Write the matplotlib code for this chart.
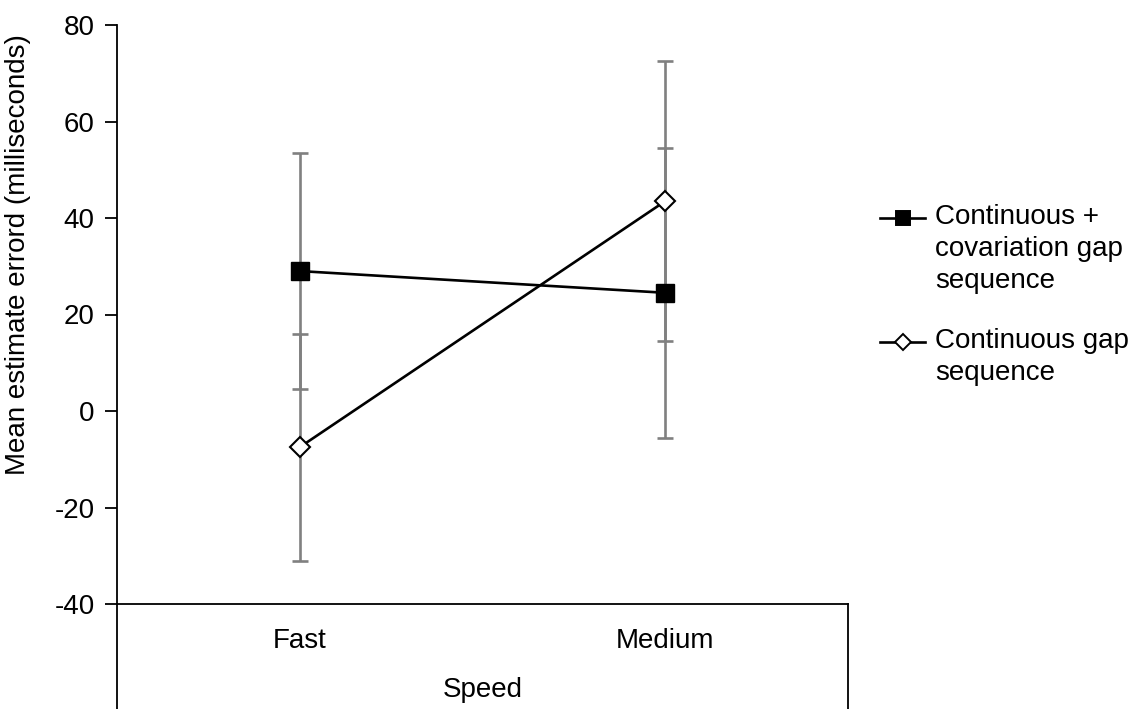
import matplotlib
matplotlib.use("Agg")
import matplotlib.pyplot as plt
from matplotlib.lines import Line2D

plt.rcParams['font.family'] = ['Liberation Sans', 'DejaVu Sans']
plt.rcParams['axes.unicode_minus'] = False

speeds = ["Fast", "Medium"]
covar_mean = [29.0, 24.5]
covar_err = [24.5, 30.0]
cont_mean = [-7.5, 43.5]
cont_err = [23.5, 29.0]
legend_labels = ["Continuous +\ncovariation gap\nsequence", "Continuous gap\nsequence"]

FS = 20

fig = plt.figure(figsize=(11.48, 7.09), dpi=100)
ax = fig.add_axes([117 / 1148, 105 / 709, 731 / 1148, 579 / 709])

x = [0, 1]
err_kw = dict(fmt='none', ecolor='#808080', elinewidth=1.9, capsize=5.5, capthick=1.9, zorder=1)
ax.errorbar(x, covar_mean, yerr=covar_err, **err_kw)
ax.errorbar(x, cont_mean, yerr=cont_err, **err_kw)

ax.plot(x, covar_mean, color='black', lw=1.9, marker='s', ms=13,
        mfc='black', mec='black', zorder=3)
ax.plot(x, cont_mean, color='black', lw=1.9, marker='D', ms=10,
        mfc='white', mec='black', mew=1.5, zorder=3)

ax.set_xlim(-0.5, 1.5)
ax.set_ylim(-40, 80)
ax.set_yticks(range(-40, 81, 20))
ax.set_xticks(x)
ax.set_xticklabels(speeds)

for s in ['top', 'right']:
    ax.spines[s].set_visible(False)
ax.spines['left'].set_linewidth(1.3)
ax.spines['bottom'].set_linewidth(1.3)
ax.tick_params(axis='y', direction='out', length=9, width=1.3, labelsize=FS, pad=7)
ax.tick_params(axis='x', length=0, labelsize=FS, pad=17)

# long category boundary lines below the axis
for xb in (0, 1):
    ax.plot([xb, xb], [0, -105 / 579], transform=ax.transAxes, color='black',
            lw=1.3, clip_on=False)

ax.set_ylabel("Mean estimate errord (milliseconds)", fontsize=FS)
ax.yaxis.set_label_coords(-0.117, 0.603)
ax.text(0.5, -0.148, "Speed", transform=ax.transAxes, ha='center', va='center', fontsize=FS)

# legend drawn by hand to keep the handle on the first text line
handles = [dict(marker='s', ms=10, mfc='black'), dict(marker='D', ms=8, mfc='white')]
ys = [218, 342]
for h, lab, yp in zip(handles, legend_labels, ys):
    yf = 1 - yp / 709
    fig.add_artist(Line2D([880 / 1148, 925 / 1148], [yf, yf], color='black', lw=1.9,
                          transform=fig.transFigure))
    fig.add_artist(Line2D([902.5 / 1148], [yf], color='black', mec='black', mew=1.4,
                          transform=fig.transFigure, **h))
    fig.text(935 / 1148, yf + 14 / 709, lab, ha='left', va='top', fontsize=FS,
             linespacing=1.31, transform=fig.transFigure)

fig.savefig("out.png", dpi=100)
